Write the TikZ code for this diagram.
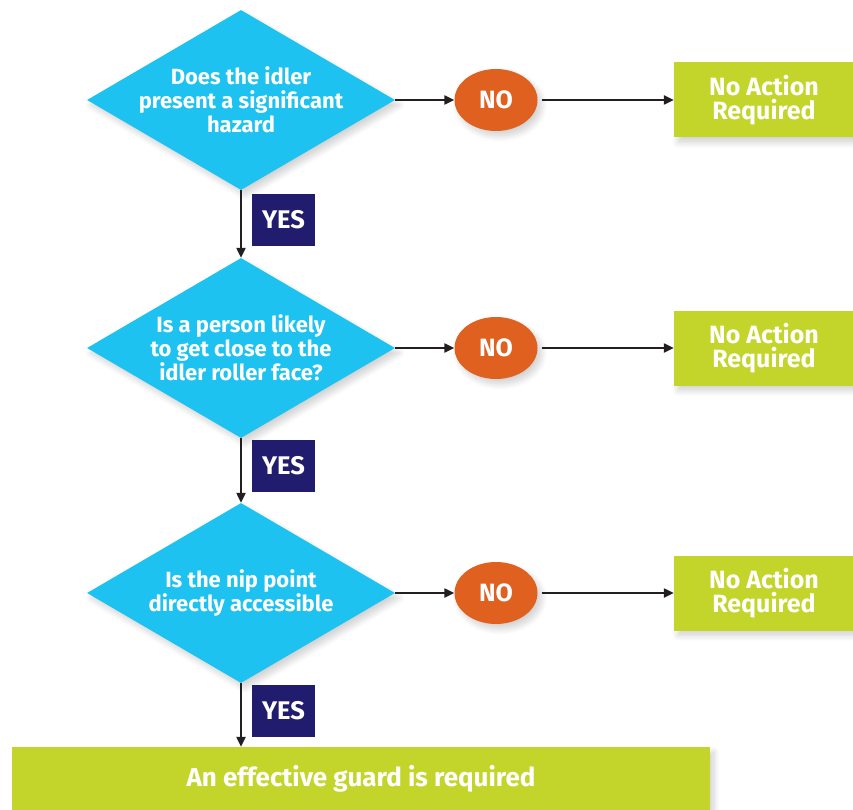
\documentclass[tikz,border=0pt]{standalone}
\usepackage{fontspec}
\setmainfont{Fira Sans}
\usetikzlibrary{shapes.geometric,arrows.meta,shadows.blur}
\definecolor{qcyan}{HTML}{1DC2F1}
\definecolor{qorange}{HTML}{E06020}
\definecolor{qgreen}{HTML}{C3D52B}
\definecolor{qnavy}{HTML}{221C6E}
\definecolor{qline}{HTML}{231F20}
\tikzset{
  soft/.style={blur shadow={shadow blur steps=8, shadow xshift=4pt, shadow yshift=-5pt, shadow blur radius=6pt, shadow opacity=18}},
  question/.style={diamond, fill=qcyan, minimum width=308pt, minimum height=180pt, aspect=1.71, inner sep=0pt, soft},
  qtext/.style={align=center, text=white, inner sep=0pt, font=\bfseries\fontsize{22}{24}\selectfont},
  noball/.style={ellipse, fill=qorange, minimum width=83pt, minimum height=62pt, inner sep=0pt, text=white, font=\bfseries\fontsize{25}{25}\selectfont, soft},
  noaction/.style={rectangle, fill=qgreen, minimum width=180pt, minimum height=75pt, inner sep=0pt, align=center, text=white, font=\bfseries\fontsize{25}{24.5}\selectfont, soft},
  yesbox/.style={rectangle, fill=qnavy, minimum width=63pt, minimum height=52pt, inner sep=0pt, text=white, font=\bfseries\fontsize{25.5}{25}\selectfont},
  flow/.style={draw=qline, line width=2.2pt, -{Triangle[length=10pt,width=9pt]}},
}
\begin{document}
\begin{tikzpicture}[x=1pt,y=-1pt]
\useasboundingbox (0,0) rectangle (853,810);
% diamonds
\node[question] (q1) at (241,100) {};
\node[question] (q2) at (241,348) {};
\node[question] (q3) at (241,593) {};
\node[qtext] (q1t) at (q1.center) {Does the idler\\present a significant\\hazard};
\node[qtext] (q2t) at (q2.center) {Is a person likely\\to get close to the\\idler roller face?};
\node[qtext] (q3t) at (q3.center) {Is the nip point\\directly accessible};
% NO ellipses
\node[noball] (n1) at (496,100) {NO};
\node[noball] (n2) at (496,348) {NO};
\node[noball] (n3) at (496,593) {NO};
% no action boxes
\node[noaction] (a1) at (764,100) {No Action\\Required};
\node[noaction] (a2) at (764,348) {No Action\\Required};
\node[noaction] (a3) at (764,593) {No Action\\Required};
% YES labels
\node[yesbox] (y1) at (283.5,220) {YES};
\node[yesbox] (y2) at (283.5,466) {YES};
\node[yesbox] (y3) at (283.5,711) {YES};
% final box
\node[rectangle, fill=qgreen, minimum width=698pt, minimum height=63pt, inner sep=0pt, text=white, font=\bfseries\fontsize{26}{26}\selectfont, soft] (g) at (361,778.5) {An effective guard is required};
% connectors
\foreach \q/\n/\a in {q1/n1/a1,q2/n2/a2,q3/n3/a3}{
  \draw[flow] (\q.east) -- (\n.west);
  \draw[flow] ([xshift=4pt]\n.east) -- (\a.west);
}
\draw[flow] (q1.south) -- (q2.north);
\draw[flow] (q2.south) -- (q3.north);
\draw[flow] (q3.south) -- (q3.south |- g.north);
\end{tikzpicture}
\end{document}
